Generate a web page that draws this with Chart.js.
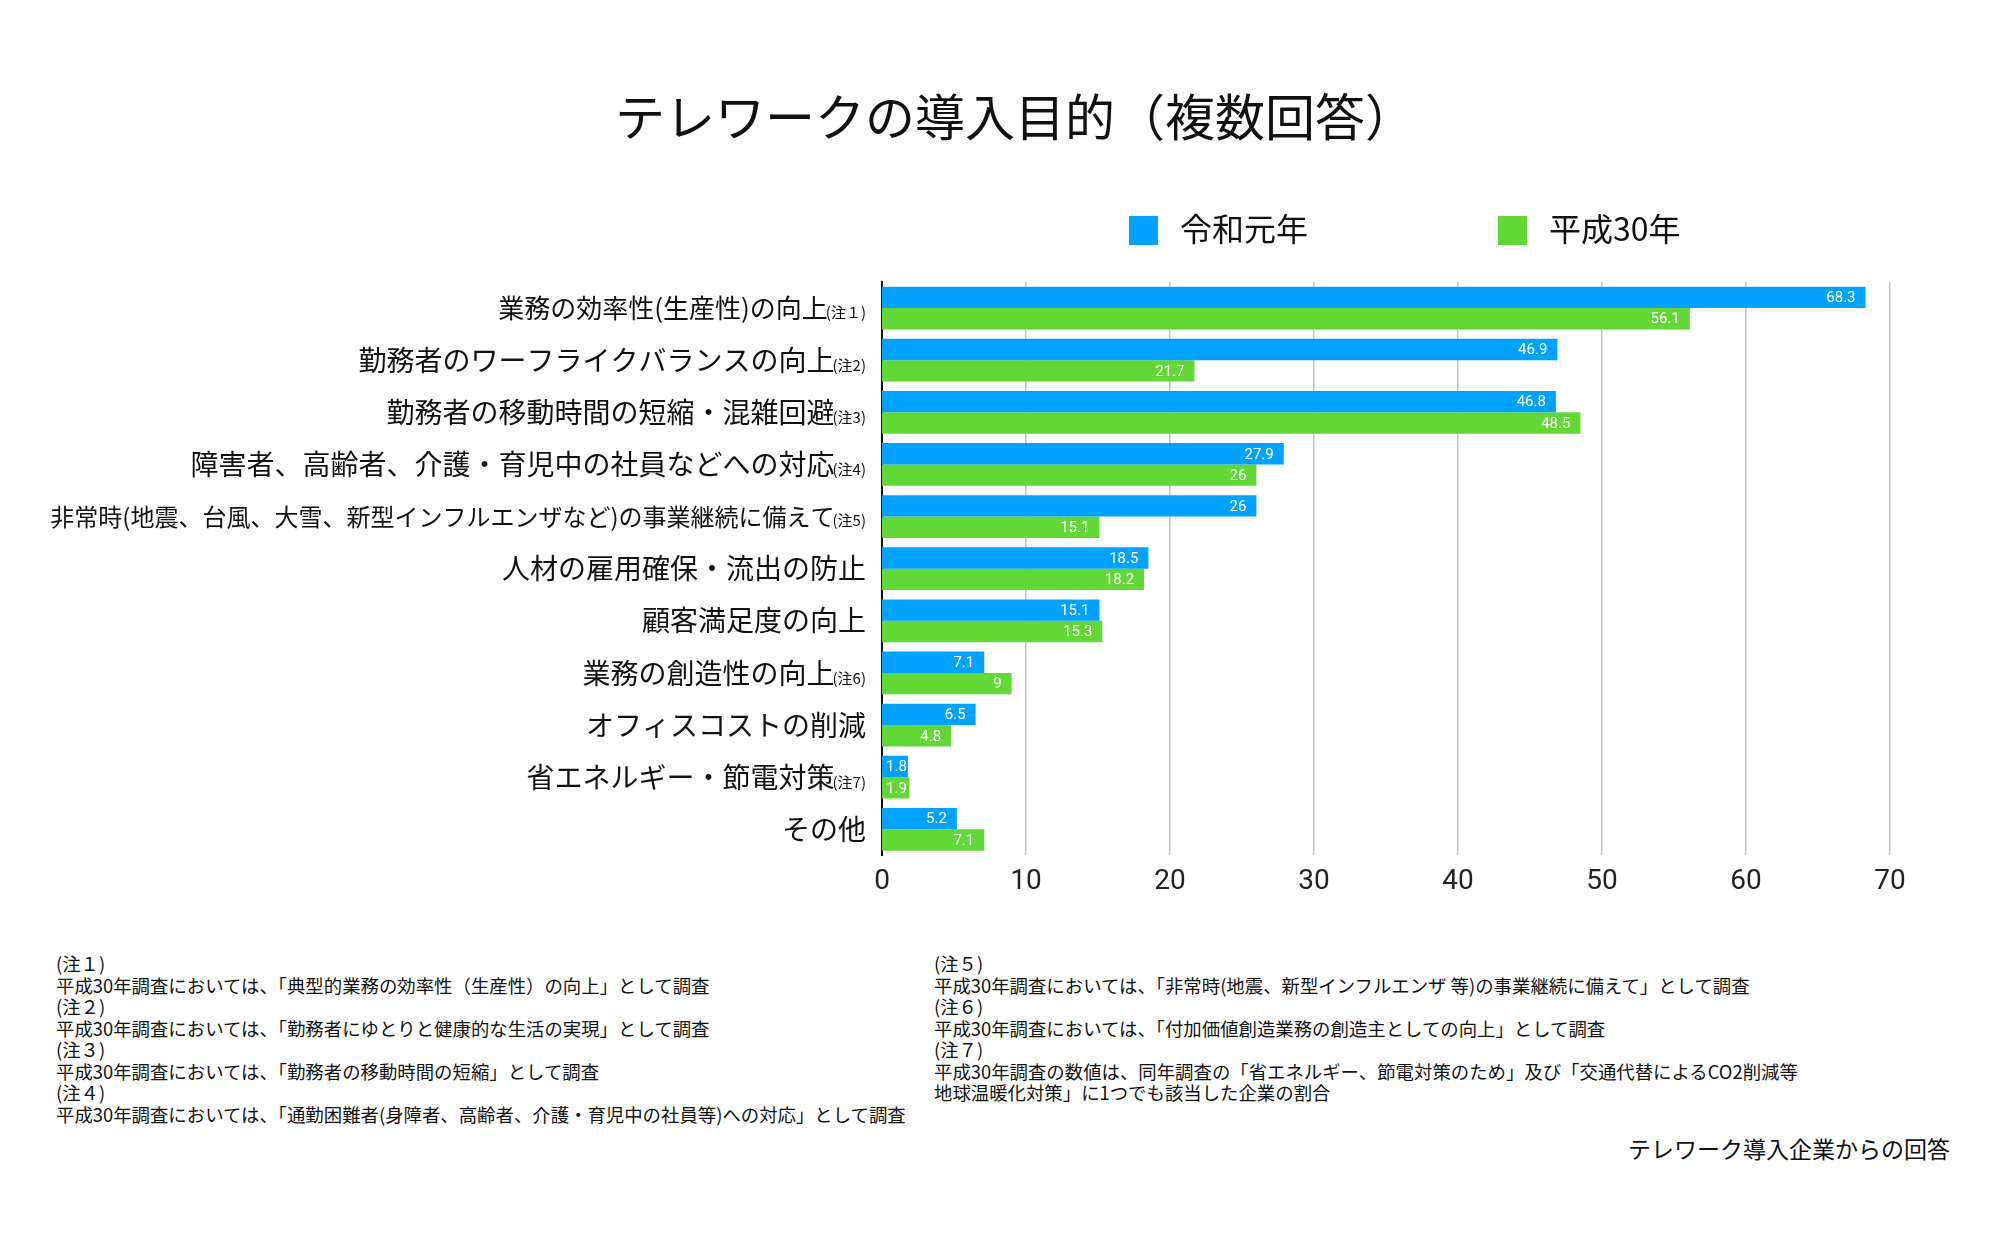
<!DOCTYPE html>
<html lang="ja">
<head>
<meta charset="UTF-8">
<title>テレワークの導入目的（複数回答）</title>
<script src="https://cdn.jsdelivr.net/npm/chart.js"></script>
<style>
    body { margin: 0; background: #fff; font-family: "Noto Sans CJK JP", sans-serif; color: #111; }
    #wrap { position: relative; width: 2000px; height: 1237px; overflow: hidden; }
    #chart { position: absolute; left: 0; top: 0; }
    #title { position: absolute; left: 0; width: 2030px; top: 84px; text-align: center; font-size: 50px; line-height: 60px; }
    .legend-item { position: absolute; top: 209px; font-size: 32px; line-height: 36px; white-space: nowrap; }
    .legend-item span { display: inline-block; width: 29px; height: 29px; vertical-align: -4px; margin-right: 22px; }
    .notes { position: absolute; top: 953px; font-size: 18.4px; line-height: 21.5px; white-space: pre; color: #111; }
    #source { position: absolute; right: 50px; top: 1131px; font-size: 23px; color: #111; }
</style>
</head>
<body>
<div id="wrap">
    <canvas id="chart" width="2000" height="920"></canvas>
    <div id="title">テレワークの導入目的（複数回答）</div>

    <div class="legend-item" style="left:1129px"><span style="background:#00A2FF"></span>令和元年</div>
    <div class="legend-item" style="left:1498px"><span style="background:#61D836"></span>平成30年</div>

    <div class="notes" style="left:56px">(注１)
平成30年調査においては、「典型的業務の効率性（生産性）の向上」として調査
(注２)
平成30年調査においては、「勤務者にゆとりと健康的な生活の実現」として調査
(注３)
平成30年調査においては、「勤務者の移動時間の短縮」として調査
(注４)
平成30年調査においては、「通勤困難者(身障者、高齢者、介護・育児中の社員等)への対応」として調査</div>
    <div class="notes" style="left:934px">(注５)
平成30年調査においては、「非常時(地震、新型インフルエンザ 等)の事業継続に備えて」として調査
(注６)
平成30年調査においては、「付加価値創造業務の創造主としての向上」として調査
(注７)
平成30年調査の数値は、同年調査の「省エネルギー、節電対策のため」及び「交通代替によるCO2削減等
地球温暖化対策」に1つでも該当した企業の割合</div>
    <div id="source">テレワーク導入企業からの回答</div>
</div>

<script>
    // categories (top to bottom) and the small note after each label
    const categories = [
        "業務の効率性(生産性)の向上",
        "勤務者のワーフライクバランスの向上",
        "勤務者の移動時間の短縮・混雑回避",
        "障害者、高齢者、介護・育児中の社員などへの対応",
        "非常時(地震、台風、大雪、新型インフルエンザなど)の事業継続に備えて",
        "人材の雇用確保・流出の防止",
        "顧客満足度の向上",
        "業務の創造性の向上",
        "オフィスコストの削減",
        "省エネルギー・節電対策",
        "その他"
    ];
    const categoryNotes = ["(注１)", "(注2)", "(注3)", "(注4)", "(注5)", "", "", "(注6)", "", "(注7)", ""];
    const labelSizes = [26, 28, 28, 28, 24, 28, 28, 28, 28, 28, 28];

    const seriesNames = ["令和元年", "平成30年"];
    const reiwa1 = [68.3, 46.9, 46.8, 27.9, 26, 18.5, 15.1, 7.1, 6.5, 1.8, 5.2];
    const heisei30 = [56.1, 21.7, 48.5, 26, 15.1, 18.2, 15.3, 9, 4.8, 1.9, 7.1];
    const xTicks = [0, 10, 20, 30, 40, 50, 60, 70];

    const JP = '"Noto Sans CJK JP", sans-serif';

    // category labels with a smaller note tacked on the end
    const categoryLabels = {
        id: 'categoryLabels',
        afterDraw(chart) {
            const ctx = chart.ctx;
            const y = chart.scales.y;
            const right = chart.chartArea.left - 16;
            ctx.save();
            ctx.fillStyle = '#111';
            ctx.textBaseline = 'alphabetic';
            ctx.textAlign = 'right';
            categories.forEach((label, i) => {
                const py = y.getPixelForTick(i);
                const size = labelSizes[i];
                const base = py + size * 0.38;
                let x = right;
                if (categoryNotes[i]) {
                    ctx.font = '15px ' + JP;
                    ctx.fillText(categoryNotes[i], x, base);
                    x -= ctx.measureText(categoryNotes[i]).width - 2;
                }
                ctx.font = size + 'px ' + JP;
                ctx.fillText(label, x, base);
            });
            ctx.restore();
        }
    };

    // white value labels inside the end of each bar
    const barValues = {
        id: 'barValues',
        afterDatasetsDraw(chart) {
            const ctx = chart.ctx;
            const left = chart.chartArea.left;
            ctx.save();
            ctx.font = '15px Roboto, sans-serif';
            ctx.fillStyle = '#fff';
            ctx.textBaseline = 'middle';
            ctx.textAlign = 'right';
            chart.data.datasets.forEach((ds, di) => {
                chart.getDatasetMeta(di).data.forEach((bar, i) => {
                    const txt = String(ds.data[i]);
                    const w = ctx.measureText(txt).width;
                    const x = Math.max(bar.x - 10, left + 4 + w);
                    ctx.fillText(txt, x, bar.y + 1);
                });
            });
            ctx.restore();
        }
    };

    new Chart(document.getElementById('chart'), {
        type: 'bar',
        data: {
            labels: categories,
            datasets: [
                { label: seriesNames[0], data: reiwa1, backgroundColor: '#00A2FF', categoryPercentage: 0.82, barPercentage: 1.0 },
                { label: seriesNames[1], data: heisei30, backgroundColor: '#61D836', categoryPercentage: 0.82, barPercentage: 1.0 }
            ]
        },
        options: {
            indexAxis: 'y',
            responsive: false,
            animation: false,
            layout: { padding: { left: 0, right: 110, top: 282, bottom: 11 } },
            plugins: {
                legend: { display: false },
                tooltip: { enabled: false },
                title: { display: false }
            },
            scales: {
                x: {
                    min: xTicks[0],
                    max: xTicks[xTicks.length - 1],
                    afterBuildTicks: s => { s.ticks = xTicks.map(v => ({ value: v })); },
                    ticks: { font: { family: 'Roboto, sans-serif', size: 28 }, color: '#222', padding: 10 },
                    grid: { color: '#c4c4c4', lineWidth: c => c.index === 0 ? 0 : 1.5, drawTicks: false },
                    border: { display: false }
                },
                y: {
                    ticks: { display: false },
                    grid: { display: false },
                    border: { display: true, color: '#111', width: 2 },
                    afterFit: s => { s.width = 882; }
                }
            }
        },
        plugins: [categoryLabels, barValues]
    });
</script>
</body>
</html>
